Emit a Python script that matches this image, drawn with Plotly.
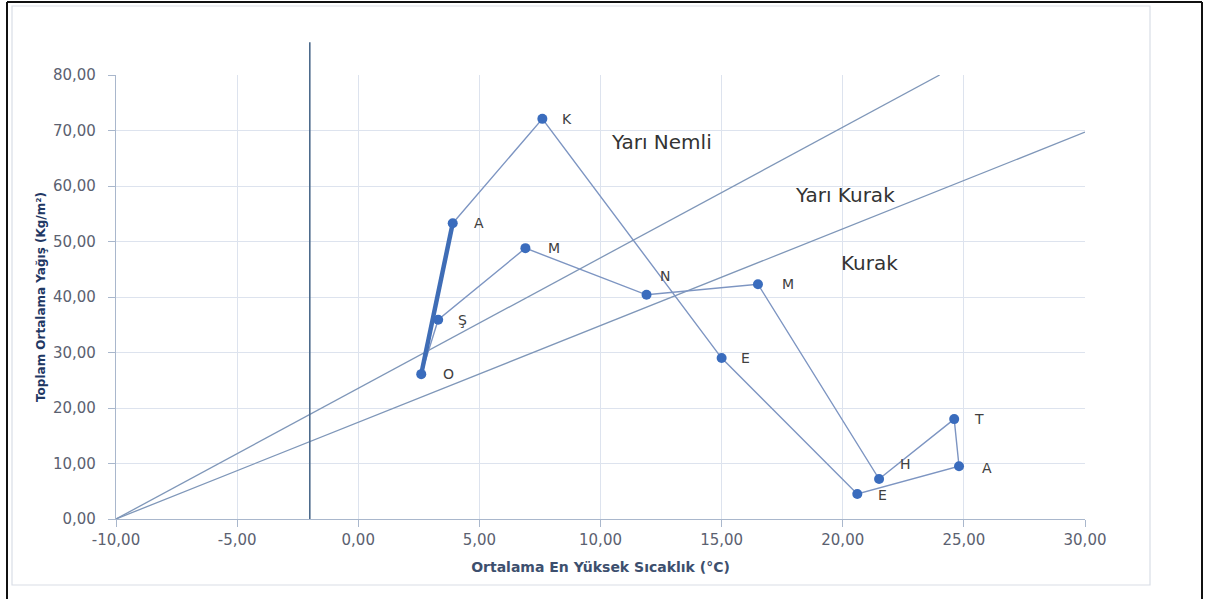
import plotly.graph_objects as go

# ---- data ----
months = ["O", "Ş", "M", "N", "M", "H", "T", "A", "E", "E", "K", "A"]
temp_max = [2.6, 3.3, 6.9, 11.9, 16.5, 21.5, 24.6, 24.8, 20.6, 15.0, 7.6, 3.9]
precip = [26.1, 35.9, 48.8, 40.4, 42.3, 7.2, 18.0, 9.5, 4.5, 29.0, 72.1, 53.3]

semi_arid_x = [-10.0, 24.0]
semi_arid_y = [0.0, 80.0]
arid_x = [-10.0, 30.0]
arid_y = [0.0, 69.7]
frost_x = -2.0

zone_labels = ["Yarı Nemli", "Yarı Kurak", "Kurak"]
zone_x = [12.5, 20.1, 21.1]
zone_y = [67.9, 58.4, 46.1]

x_ticks = [-10, -5, 0, 5, 10, 15, 20, 25, 30]
x_tick_labels = ["-10,00", "-5,00", "0,00", "5,00", "10,00", "15,00", "20,00", "25,00", "30,00"]
y_ticks = [0, 10, 20, 30, 40, 50, 60, 70, 80]
y_tick_labels = ["0,00", "10,00", "20,00", "30,00", "40,00", "50,00", "60,00", "70,00", "80,00"]

# label offsets in pixels (style only)
label_shift = [(27, 0), (24, 0), (29, 0), (18, 19), (30, 0), (26, 15),
               (25, 0), (28, -2), (25, -1), (24, 0), (25, 0), (26, 0)]

FONT = "DejaVu Sans"
LINE_C = "#7d95c2"
MARK_C = "#3a6cbd"

fig = go.Figure()

fig.add_trace(go.Scatter(x=semi_arid_x, y=semi_arid_y, mode="lines",
                         line=dict(color="#7f97b9", width=1.3),
                         hoverinfo="skip", showlegend=False))
fig.add_trace(go.Scatter(x=arid_x, y=arid_y, mode="lines",
                         line=dict(color="#7f97b9", width=1.3),
                         hoverinfo="skip", showlegend=False))

# thin loop through the months
fig.add_trace(go.Scatter(x=temp_max, y=precip, mode="lines",
                         line=dict(color=LINE_C, width=1.4),
                         showlegend=False))
# thick closing segment (last month -> first month)
fig.add_trace(go.Scatter(x=[temp_max[-1], temp_max[0]], y=[precip[-1], precip[0]],
                         mode="lines", line=dict(color="#3f6db6", width=4.5),
                         showlegend=False))
fig.add_trace(go.Scatter(x=temp_max, y=precip, mode="markers",
                         marker=dict(color=MARK_C, size=10),
                         text=months, showlegend=False))

for m, x, y, (dx, dy) in zip(months, temp_max, precip, label_shift):
    fig.add_annotation(x=x, y=y, text=m, showarrow=False, xshift=dx, yshift=dy,
                       font=dict(family=FONT, size=14, color="#404040"))

for t, x, y in zip(zone_labels, zone_x, zone_y):
    fig.add_annotation(x=x, y=y, text=t, showarrow=False,
                       font=dict(family=FONT, size=20, color="#333333"))

# vertical line extending above plot area
fig.add_shape(type="line", xref="x", yref="paper", x0=frost_x, x1=frost_x,
              y0=0, y1=1.074, line=dict(color="#4d6b8c", width=1.6))

# frames (image border and chart area border)
def px_x(p):
    return (p - 116) / 969.0

def px_y(p):
    return (519 - p) / 444.0

fig.add_shape(type="rect", xref="paper", yref="paper",
              x0=px_x(12), x1=px_x(1150), y0=px_y(585), y1=px_y(6),
              line=dict(color="#d9dee6", width=1.2))
for (a, b, c, d) in [(7, 2, 7, 599), (7, 2, 1202, 2), (1202, 2, 1202, 599)]:
    fig.add_shape(type="line", xref="paper", yref="paper",
                  x0=px_x(a), y0=px_y(b), x1=px_x(c), y1=px_y(d),
                  line=dict(color="#111111", width=2))

axis_common = dict(
    showgrid=True, gridcolor="#dde3ee", gridwidth=1,
    showline=True, linecolor="#a9b7cc", linewidth=1.3,
    ticks="outside", tickcolor="#a9b7cc", ticklen=7,
    zeroline=False,
    tickfont=dict(family=FONT, size=15, color="#5b6170"),
)

fig.update_xaxes(range=[-10, 30], tickvals=x_ticks, ticktext=x_tick_labels, **axis_common,
                 title=dict(text="Ortalama En Yüksek Sıcaklık (°C)", standoff=14,
                            font=dict(family=FONT, size=14, color="#3d4f6e",
                                      weight="bold")))
fig.update_yaxes(range=[0, 80], tickvals=y_ticks, ticktext=y_tick_labels, **axis_common,
                 ticklabelstandoff=9,
                 title=dict(text="Toplam Ortalama Yağış (Kg/m²)", standoff=4,
                            font=dict(family=FONT, size=12, color="#1f3864",
                                      weight="bold")))

fig.update_layout(
    width=1205, height=599,
    margin=dict(l=116, r=120, t=75, b=80),
    paper_bgcolor="white", plot_bgcolor="white",
    showlegend=False,
)

fig.write_html("out.html", config={"displayModeBar": False},
               post_script="document.body.style.margin='0px';document.body.style.overflow='hidden';")
